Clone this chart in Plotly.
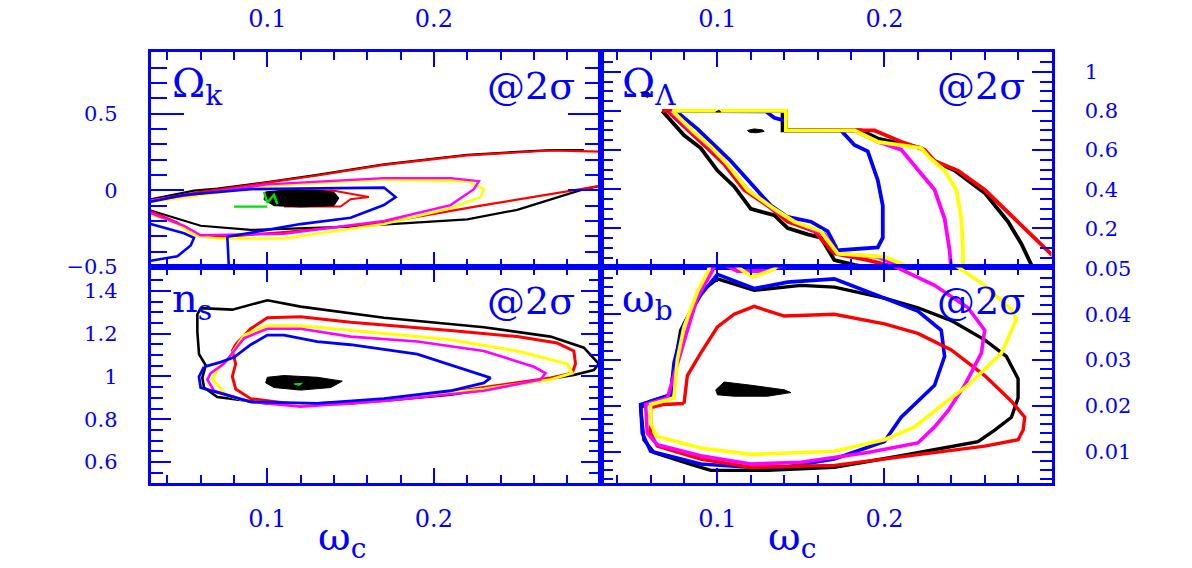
import plotly.graph_objects as go
from plotly.subplots import make_subplots

W, H = 1192, 568
BLUE = "#0000ff"
FONT = "DejaVu Serif"

# ---------------- axes ----------------
wc_range = [0.03, 0.30]
ok_range = [-0.503, 0.905]
ol_range = [0.0, 1.103]
ns_range = [0.503, 1.509]
wb_range = [0.0032, 0.0502]

wc_tickvals = [0.1, 0.2]
wc_ticktext = ["0.1", "0.2"]
ok_tickvals = [-0.5, 0.0, 0.5]
ok_ticktext = ["\u22120.5", "0", "0.5"]
ol_tickvals = [0.2, 0.4, 0.6, 0.8, 1.0]
ol_ticktext = ["0.2", "0.4", "0.6", "0.8", "1"]
ns_tickvals = [0.6, 0.8, 1.0, 1.2, 1.4]
ns_ticktext = ["0.6", "0.8", "1", "1.2", "1.4"]
wb_tickvals = [0.01, 0.02, 0.03, 0.04, 0.05]
wb_ticktext = ["0.01", "0.02", "0.03", "0.04", "0.05"]

# ---------------- panel 1: Omega_k vs omega_c ----------------
K_BLACK = [(0.03, -0.058), (0.056, -0.002), (0.07, 0.012), (0.1, 0.054), (0.13, 0.101), (0.17, 0.170),
           (0.22, 0.232), (0.27, 0.263), (0.29, 0.262), None,
           (0.03, -0.131), (0.044, -0.179), (0.06, -0.231), (0.09, -0.258), (0.15, -0.237),
           (0.22, -0.189), (0.25, -0.127), (0.29, 0.008), (0.30, 0.029)]
K_RED = [(0.03, -0.065), (0.06, -0.01), (0.1, 0.05), (0.13, 0.097), (0.17, 0.166), (0.22, 0.228),
         (0.27, 0.26), (0.30, 0.253), None,
         (0.03, -0.137), (0.046, -0.210), (0.056, -0.293), (0.074, -0.303), (0.11, -0.272),
         (0.17, -0.210), (0.23, -0.096), (0.30, 0.029)]
K_YELLOW = [(0.03, -0.075), (0.1, 0.029), (0.15, 0.060), (0.17, 0.070), (0.22, 0.060), (0.23, 0.008),
            (0.228, -0.044), (0.21, -0.117), (0.17, -0.220), (0.11, -0.314), (0.07, -0.314),
            (0.056, -0.293), (0.046, -0.220), (0.03, -0.158)]
K_MAGENTA = [(0.03, -0.065), (0.1, 0.039), (0.17, 0.080), (0.21, 0.080), (0.227, 0.060), (0.224, 0.008),
             (0.21, -0.096), (0.17, -0.200), (0.11, -0.283), (0.06, -0.293), (0.05, -0.231), (0.03, -0.148)]
K_BLUE = [(0.03, -0.075), (0.05, -0.03), (0.09, 0.008), (0.13, 0.012), (0.17, 0.018), (0.177, -0.044),
          (0.17, -0.096), (0.15, -0.179), (0.12, -0.220), (0.076, -0.303), (0.077, -0.52), None,
          (0.03, -0.220), (0.05, -0.28), (0.056, -0.31), (0.054, -0.36), (0.046, -0.43), (0.03, -0.459)]
K_RED_IN = [(0.106, -0.002), (0.14, -0.002), (0.161, -0.044), (0.15, -0.058), (0.144, -0.106), (0.11, -0.106)]
K_BLOB = [(0.099, -0.01), (0.11, 0.0), (0.13, 0.0), (0.14, -0.012), (0.143, -0.05), (0.14, -0.1),
          (0.12, -0.108), (0.104, -0.1), (0.098, -0.06), (0.099, -0.01)]
K_GREEN = [(0.08, -0.106), (0.1, -0.106), None, (0.098, -0.01), (0.1, -0.08), (0.104, -0.03), (0.106, -0.09)]

# ---------------- panel 2: Omega_Lambda vs omega_c ----------------
L_BLACK = [(0.067, 0.8), (0.080, 0.675), (0.090, 0.61), (0.100, 0.495), (0.110, 0.414), (0.120, 0.299),
           (0.134, 0.267), (0.142, 0.201), (0.154, 0.169), (0.162, 0.152), (0.170, 0.038), (0.182, 0.013),
           (0.196, -0.01), None,
           (0.067, 0.8), (0.139, 0.8), (0.139, 0.70), (0.186, 0.70), (0.196, 0.659), (0.222, 0.610),
           (0.230, 0.544), (0.242, 0.495), (0.260, 0.381), (0.274, 0.234), (0.282, 0.120), (0.289, -0.005)]
L_RED = [(0.070, 0.8), (0.084, 0.692), (0.094, 0.61), (0.104, 0.528), (0.116, 0.397), (0.130, 0.316),
         (0.142, 0.234), (0.158, 0.185), (0.170, 0.071), (0.19, 0.038), (0.21, -0.005), None,
         (0.067, 0.8), (0.141, 0.8), (0.141, 0.70), (0.194, 0.70), (0.210, 0.642), (0.224, 0.602),
         (0.230, 0.544), (0.244, 0.495), (0.260, 0.397), (0.282, 0.218), (0.302, 0.05)]
L_BLUE = [(0.075, 0.8), (0.088, 0.708), (0.098, 0.626), (0.108, 0.544), (0.120, 0.430), (0.132, 0.316),
          (0.142, 0.258), (0.156, 0.234), (0.166, 0.185), (0.171, 0.103), (0.171, 0.087), (0.196, 0.103),
          (0.199, 0.152), (0.199, 0.316), (0.196, 0.446), (0.190, 0.593), (0.182, 0.626), (0.174, 0.70),
          (0.141, 0.70), (0.141, 0.749), (0.134, 0.765), (0.129, 0.798), (0.075, 0.8)]
L_MAGENTA = [(0.072, 0.8), (0.084, 0.700), (0.094, 0.626), (0.104, 0.544), (0.118, 0.397), (0.136, 0.283),
             (0.150, 0.218), (0.164, 0.169), (0.172, 0.071), (0.196, 0.054), (0.210, 0.005), (0.214, -0.01), None,
             (0.182, 0.70), (0.196, 0.642), (0.210, 0.602), (0.222, 0.479), (0.230, 0.397), (0.236, 0.250),
             (0.239, 0.087), (0.240, -0.01)]
L_YELLOW = [(0.073, 0.8), (0.086, 0.692), (0.096, 0.618), (0.106, 0.528), (0.118, 0.397), (0.134, 0.299),
            (0.146, 0.234), (0.162, 0.185), (0.172, 0.071), (0.2, 0.054), (0.212, 0.013), (0.213, -0.01), None,
            (0.073, 0.8), (0.141, 0.8), (0.141, 0.70), (0.182, 0.70), (0.196, 0.642), (0.222, 0.610),
            (0.227, 0.561), (0.236, 0.495), (0.243, 0.397), (0.246, 0.250), (0.247, 0.087), (0.247, -0.01)]
L_BLOB_A = [(0.118, 0.70), (0.122, 0.708), (0.127, 0.703), (0.128, 0.695), (0.123, 0.688), (0.119, 0.692), (0.118, 0.70)]
L_BLOB_B = [(0.054, 0.895), (0.058, 0.9), (0.06, 0.88), (0.058, 0.868), (0.054, 0.895)]
L_BLOB_C = [(0.099, 0.795), (0.101, 0.802), (0.102, 0.795), (0.099, 0.795)]

# ---------------- panel 3: n_s vs omega_c ----------------
N_BLACK = [(0.06, 1.319), (0.079, 1.312), (0.1, 1.356), (0.12, 1.326), (0.17, 1.274), (0.23, 1.230),
           (0.27, 1.186), (0.29, 1.134), (0.299, 1.059), (0.296, 1.030), (0.284, 1.007), (0.25, 0.963),
           (0.21, 0.915), (0.17, 0.887), (0.13, 0.874), (0.1, 0.874), (0.07, 0.904), (0.062, 0.948),
           (0.061, 0.993), (0.063, 1.052), (0.059, 1.104), (0.058, 1.208), (0.058, 1.290), (0.06, 1.319)]
N_RED = [(0.081, 1.149), (0.09, 1.223), (0.1, 1.274), (0.12, 1.279), (0.15, 1.253), (0.21, 1.215),
         (0.25, 1.186), (0.274, 1.156), (0.284, 1.119), (0.285, 1.059), (0.283, 1.015), (0.27, 0.993),
         (0.23, 0.948), (0.19, 0.904), (0.15, 0.874), (0.12, 0.866), (0.09, 0.896), (0.081, 0.941),
         (0.079, 1.0), (0.081, 1.059), (0.079, 1.119), (0.081, 1.149)]
N_YELLOW = [(0.076, 1.074), (0.086, 1.193), (0.1, 1.237), (0.12, 1.237), (0.17, 1.200), (0.21, 1.171),
            (0.25, 1.119), (0.28, 1.059), (0.283, 1.015), (0.27, 0.985), (0.23, 0.941), (0.17, 0.889),
            (0.13, 0.866), (0.09, 0.881), (0.076, 0.911), (0.067, 0.985), (0.07, 1.030), (0.076, 1.074)]
N_MAGENTA = [(0.074, 1.059), (0.086, 1.178), (0.1, 1.223), (0.12, 1.223), (0.15, 1.186), (0.19, 1.163),
             (0.23, 1.119), (0.26, 1.045), (0.267, 1.015), (0.264, 0.985), (0.23, 0.933), (0.17, 0.885),
             (0.12, 0.859), (0.09, 0.881), (0.068, 0.933), (0.064, 0.985), (0.066, 1.015), (0.074, 1.059)]
N_BLUE = [(0.062, 1.045), (0.072, 1.067), (0.08, 1.089), (0.09, 1.148), (0.1, 1.193), (0.11, 1.193),
          (0.13, 1.163), (0.15, 1.148), (0.19, 1.104), (0.23, 1.0), (0.234, 0.993), (0.23, 0.970),
          (0.21, 0.933), (0.17, 0.896), (0.13, 0.874), (0.09, 0.881), (0.07, 0.926), (0.06, 0.948),
          (0.059, 0.999), (0.062, 1.045)]
N_BLOB = [(0.1, 0.996), (0.11, 1.004), (0.13, 0.996), (0.145, 0.978), (0.138, 0.948), (0.12, 0.936),
          (0.104, 0.948), (0.099, 0.970), (0.1, 0.996)]
N_GREEN = [(0.116, 0.965), (0.121, 0.968), (0.119, 0.958), (0.116, 0.965)]

# ---------------- panel 4: omega_b vs omega_c ----------------
B_BLACK = [(0.1, 0.0477), (0.122, 0.0452), (0.15, 0.0463), (0.17, 0.0459), (0.2, 0.0435), (0.22, 0.0414),
           (0.24, 0.0386), (0.26, 0.0344), (0.273, 0.0308), (0.28, 0.0259), (0.28, 0.0217), (0.276, 0.0175),
           (0.266, 0.0147), (0.256, 0.0122), (0.21, 0.0091), (0.17, 0.0066), (0.13, 0.0059), (0.096, 0.0059),
           (0.086, 0.007), (0.062, 0.0098), (0.056, 0.0126), (0.054, 0.0196), (0.06, 0.021), (0.072, 0.0224),
           (0.073, 0.0259), (0.078, 0.0365), (0.09, 0.0449), (0.1, 0.0477)]
B_BLUE = [(0.1, 0.0487), (0.122, 0.0456), (0.142, 0.047), (0.17, 0.0477), (0.19, 0.0449), (0.22, 0.0407),
          (0.234, 0.0365), (0.236, 0.0308), (0.23, 0.0245), (0.21, 0.0175), (0.2, 0.0122), (0.17, 0.0084),
          (0.14, 0.0066), (0.12, 0.0066), (0.09, 0.0073), (0.06, 0.0101), (0.055, 0.014), (0.054, 0.0203),
          (0.072, 0.0224), (0.074, 0.0294), (0.08, 0.0379), (0.09, 0.0442), (0.1, 0.0487)]
B_RED = [(0.08, 0.0205), (0.082, 0.0266), (0.09, 0.0315), (0.1, 0.0372), (0.11, 0.04), (0.122, 0.0417),
         (0.14, 0.0396), (0.17, 0.04), (0.2, 0.0379), (0.22, 0.0358), (0.24, 0.0322), (0.26, 0.0266),
         (0.276, 0.021), (0.284, 0.0175), (0.283, 0.0147), (0.28, 0.0126), (0.26, 0.0112), (0.21, 0.0088),
         (0.17, 0.007), (0.12, 0.0066), (0.09, 0.0084), (0.064, 0.0112), (0.06, 0.014), (0.06, 0.0196),
         (0.068, 0.0203), (0.08, 0.0205)]
B_MAGENTA = [(0.099, 0.0508), (0.088, 0.0436), (0.082, 0.0365), (0.076, 0.0294), (0.07, 0.0217),
             (0.057, 0.0203), (0.058, 0.014), (0.064, 0.0115), (0.09, 0.0091), (0.12, 0.0073), (0.15, 0.0077),
             (0.19, 0.0098), (0.22, 0.0119), (0.23, 0.0154), (0.238, 0.0189), (0.248, 0.0245), (0.258, 0.0315),
             (0.26, 0.0365), (0.25, 0.0414), (0.23, 0.0463), (0.204, 0.0508), None,
             (0.104, 0.0508), (0.112, 0.0494), (0.13, 0.0494), (0.14, 0.0508)]
B_YELLOW = [(0.096, 0.0508), (0.094, 0.0491), (0.088, 0.0449), (0.08, 0.0372), (0.076, 0.0301), (0.074, 0.0217),
            (0.06, 0.0203), (0.06, 0.0161), (0.064, 0.0133), (0.09, 0.0108), (0.12, 0.0094), (0.17, 0.0101),
            (0.2, 0.0126), (0.218, 0.0154), (0.23, 0.0189), (0.25, 0.0245), (0.27, 0.0315), (0.279, 0.0389),
            (0.276, 0.041), (0.26, 0.0463), (0.242, 0.0508), None,
            (0.11, 0.0508), (0.121, 0.0481), (0.134, 0.0498), (0.136, 0.0508)]
B_BLOB = [(0.099, 0.0235), (0.104, 0.0252), (0.12, 0.0245), (0.14, 0.0235), (0.144, 0.0229), (0.13, 0.0221),
          (0.11, 0.0221), (0.1, 0.0224), (0.099, 0.0235)]

# ---------------- figure ----------------
fig = make_subplots(rows=2, cols=2, horizontal_spacing=0, vertical_spacing=0)


def curve(pts, color, width, row, col, fill=False):
    xs = [None if p is None else p[0] for p in pts]
    ys = [None if p is None else p[1] for p in pts]
    fig.add_trace(go.Scatter(x=xs, y=ys, mode="lines",
                             line=dict(color=color, width=width),
                             fill="toself" if fill else None,
                             fillcolor=color if fill else None,
                             connectgaps=False, showlegend=False, hoverinfo="skip"),
                  row=row, col=col)


BK, RD, YL, MG, BL, GR = "#000000", "#ff0000", "#ffff00", "#ff00ff", "#0000ff", "#00e000"

# panel 1
curve(K_BLACK, BK, 2.2, 1, 1)
curve(K_RED, RD, 2.2, 1, 1)
curve(K_YELLOW, YL, 2.6, 1, 1)
curve(K_MAGENTA, MG, 2.4, 1, 1)
curve(K_BLUE, BL, 2.6, 1, 1)
curve(K_RED_IN, RD, 2, 1, 1)
curve(K_BLOB, BK, 1, 1, 1, fill=True)
curve(K_GREEN, GR, 2.4, 1, 1)

# panel 2
curve(L_BLACK, BK, 3.8, 1, 2)
curve(L_RED, RD, 3.8, 1, 2)
curve(L_BLUE, BL, 3.8, 1, 2)
curve(L_MAGENTA, MG, 3.8, 1, 2)
curve(L_YELLOW, YL, 3.8, 1, 2)
curve(L_BLOB_A, BK, 1, 1, 2, fill=True)
curve(L_BLOB_B, BK, 1, 1, 2, fill=True)
curve(L_BLOB_C, BK, 1, 1, 2, fill=True)

# panel 3
curve(N_BLACK, BK, 2.6, 2, 1)
curve(N_RED, RD, 3, 2, 1)
curve(N_YELLOW, YL, 3, 2, 1)
curve(N_MAGENTA, MG, 2.6, 2, 1)
curve(N_BLUE, BL, 2.8, 2, 1)
curve(N_BLOB, BK, 1, 2, 1, fill=True)
curve(N_GREEN, GR, 1, 2, 1, fill=True)

# panel 4
curve(B_BLACK, BK, 3.4, 2, 2)
curve(B_BLUE, BL, 3.6, 2, 2)
curve(B_RED, RD, 3.4, 2, 2)
curve(B_MAGENTA, MG, 3.6, 2, 2)
curve(B_YELLOW, YL, 3.6, 2, 2)
curve(B_BLOB, BK, 1, 2, 2, fill=True)

xd_left = [150.7 / W, 600.5 / W]
xd_right = [600.5 / W, 1051.5 / W]
yd_top = [1 - 267.3 / H, 1 - 42.3 / H]
yd_bot = [1 - 491.7 / H, 1 - 267.3 / H]

xfont = dict(family=FONT, size=24, color=BLUE)
yfont = dict(family=FONT, size=21, color=BLUE)
common = dict(showline=True, linecolor=BLUE, linewidth=3, mirror="ticks", ticks="inside",
              tickcolor=BLUE, tickwidth=2, showgrid=False, zeroline=False,
              tickmode="array", fixedrange=True)


def xax(domain, side, standoff):
    return dict(common, domain=domain, range=wc_range, side=side, tickvals=wc_tickvals,
                ticktext=wc_ticktext, ticklen=15, ticklabelstandoff=standoff, tickfont=xfont,
                minor=dict(dtick=0.02, tick0=0.0, ticklen=8, ticks="inside", tickcolor=BLUE, tickwidth=2))


def yax(domain, side, rng, vals, text, mdt, mlen, mjlen):
    return dict(common, domain=domain, range=rng, side=side, tickvals=vals, ticktext=text,
                ticklen=mjlen, ticklabelstandoff=26, tickfont=yfont,
                minor=dict(dtick=mdt, tick0=0.0, ticklen=mlen, ticks="inside", tickcolor=BLUE, tickwidth=2))


fig.update_layout(
    width=W, height=H, margin=dict(l=0, r=0, t=0, b=0),
    paper_bgcolor="white", plot_bgcolor="white", showlegend=False,
    xaxis=xax(xd_left, "top", 12),
    xaxis2=xax(xd_right, "top", 12),
    xaxis3=xax(xd_left, "bottom", 12),
    xaxis4=xax(xd_right, "bottom", 12),
    yaxis=yax(yd_top, "left", ok_range, ok_tickvals, ok_ticktext, 0.1, 16, 33),
    yaxis2=yax(yd_top, "right", ol_range, ol_tickvals, ol_ticktext, 0.05, 12, 20),
    yaxis3=yax(yd_bot, "left", ns_range, ns_tickvals, ns_ticktext, 0.05, 12, 20),
    yaxis4=yax(yd_bot, "right", wb_range, wb_tickvals, wb_ticktext, 0.002, 12, 20),
)

labels = [
    ("\u03a9<sub>k</sub>", 170, 78, "left", 40),
    ("@2\u03c3", 577, 78, "right", 38),
    ("\u03a9<sub>\u039b</sub>", 620, 78, "left", 40),
    ("@2\u03c3", 1027, 78, "right", 38),
    ("n<sub>s</sub>", 170, 302, "left", 40),
    ("@2\u03c3", 577, 302, "right", 38),
    ("\u03c9<sub>b</sub>", 620, 302, "left", 40),
    ("@2\u03c3", 1027, 302, "right", 38),
    ("\u03c9<sub>c</sub>", 342, 550, "center", 40),
    ("\u03c9<sub>c</sub>", 792, 550, "center", 40),
]
for text, px, py, anchor, size in labels:
    fig.add_annotation(text=text, x=px / W, y=1 - py / H, xref="paper", yref="paper",
                       xanchor=anchor, yanchor="middle", showarrow=False,
                       font=dict(family=FONT, size=size, color=BLUE))

fig.write_html("out.html", config={"displayModeBar": False},
               post_script="document.body.style.margin='0';")
